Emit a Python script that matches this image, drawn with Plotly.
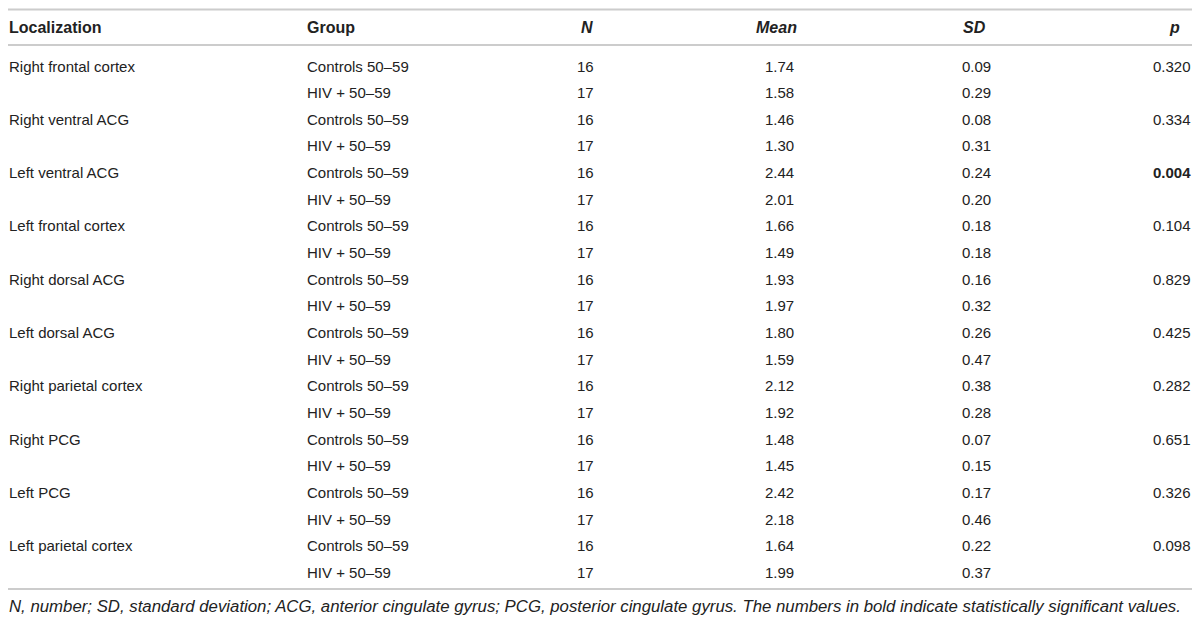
import plotly.graph_objects as go

# ---- data ----
localizations = [
    "Right frontal cortex", "Right ventral ACG", "Left ventral ACG",
    "Left frontal cortex", "Right dorsal ACG", "Left dorsal ACG",
    "Right parietal cortex", "Right PCG", "Left PCG", "Left parietal cortex",
]
groups = ["Controls 50–59", "HIV + 50–59"]
n_controls = [16] * 10
n_hiv = [17] * 10
mean_controls = [1.74, 1.46, 2.44, 1.66, 1.93, 1.80, 2.12, 1.48, 2.42, 1.64]
mean_hiv = [1.58, 1.30, 2.01, 1.49, 1.97, 1.59, 1.92, 1.45, 2.18, 1.99]
sd_controls = [0.09, 0.08, 0.24, 0.18, 0.16, 0.26, 0.38, 0.07, 0.17, 0.22]
sd_hiv = [0.29, 0.31, 0.20, 0.18, 0.32, 0.47, 0.28, 0.15, 0.46, 0.37]
p_values = ["0.320", "0.334", "0.004", "0.104", "0.829", "0.425", "0.282", "0.651", "0.326", "0.098"]
headers = ["Localization", "Group", "<i>N</i>", "<i>Mean</i>", "<i>SD</i>", "<i>p</i>"]
footnote = ("<i>N, number; SD, standard deviation; ACG, anterior cingulate gyrus; "
            "PCG, posterior cingulate gyrus. The numbers in bold indicate statistically significant values.</i>")

# ---- layout constants ----
# The page body has an 8px margin; map screen pixels directly to axis units.
OFF = 8
W, H = 1200 - 2 * OFF, 624 - 2 * OFF
FONT = "Liberation Sans, Arial, Helvetica, sans-serif"
TXT = "#222222"
LINE = "#cccccc"
FS_BODY = 15
FS_HEAD = 16
FS_FOOT = 16.8

X_LEFT = OFF + 0.5
col_val = [(X_LEFT, "left"), (307, "left"), (594, "right"), (794, "right"), (991, "right"), (1191, "right")]
col_hdr = [(X_LEFT, "left"), (307, "left"), (593, "right"), (797, "right"), (986, "right"), (1180, "right")]

y_top_line = OFF + 1.5
y_header = 27
y_header_line = 45
y_row0 = 66
row_h = 26.65
y_bottom_line = 589
y_foot = 606

annotations = []

def add_text(x, y, text, anchor, bold=False, size=FS_BODY):
    if bold:
        text = "<b>" + text + "</b>"
    annotations.append(dict(
        x=x, y=y, xref="x", yref="y", text=text, showarrow=False,
        xanchor=anchor, yanchor="middle", borderpad=0, borderwidth=0,
        font=dict(family=FONT, size=size, color=TXT),
    ))

for (x, a), h in zip(col_hdr, headers):
    add_text(x, y_header, h, a, bold=True, size=FS_HEAD)

for i, loc in enumerate(localizations):
    rows = [
        [loc, groups[0], str(n_controls[i]), f"{mean_controls[i]:.2f}", f"{sd_controls[i]:.2f}", p_values[i]],
        ["", groups[1], str(n_hiv[i]), f"{mean_hiv[i]:.2f}", f"{sd_hiv[i]:.2f}", ""],
    ]
    for j, row in enumerate(rows):
        y = y_row0 + (2 * i + j) * row_h
        for c, ((x, a), val) in enumerate(zip(col_val, row)):
            if val == "":
                continue
            bold = (c == 5 and float(val) < 0.05)
            add_text(x, y, val, a, bold=bold)

add_text(X_LEFT, y_foot, footnote, "left", size=FS_FOOT)

shapes = []
for yy in (y_top_line, y_header_line, y_bottom_line):
    shapes.append(dict(type="line", xref="x", yref="y", x0=OFF, x1=1192, y0=yy, y1=yy,
                       line=dict(color=LINE, width=2)))

fig = go.Figure()
fig.add_trace(go.Scatter(x=[OFF, OFF + W], y=[OFF, OFF + H], mode="markers",
                         marker=dict(opacity=0), hoverinfo="skip", showlegend=False))
fig.update_layout(
    width=W, height=H,
    margin=dict(l=0, r=0, t=0, b=0),
    paper_bgcolor="white", plot_bgcolor="white",
    xaxis=dict(range=[OFF, OFF + W], visible=False, fixedrange=True),
    yaxis=dict(range=[OFF + H, OFF], visible=False, fixedrange=True),
    annotations=annotations, shapes=shapes, showlegend=False,
)
fig.write_html("out.html")
